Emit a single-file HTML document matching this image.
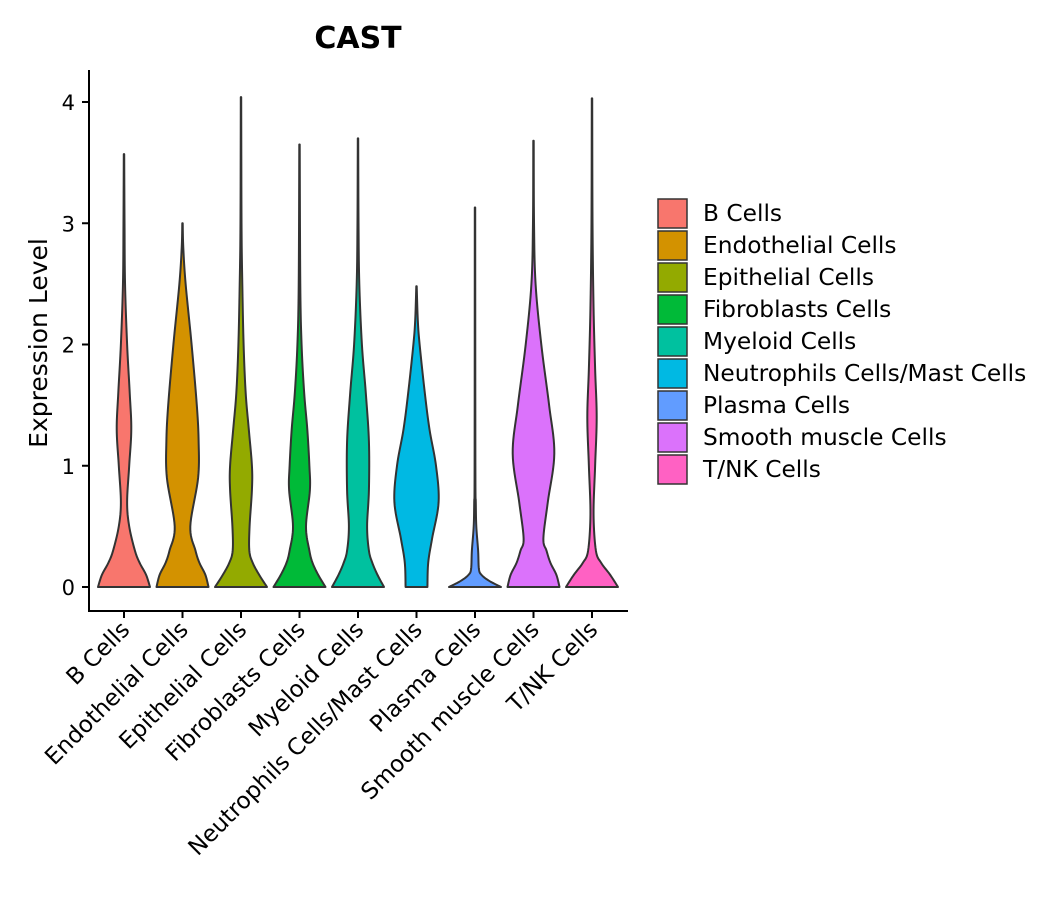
<!DOCTYPE html>
<html><head><meta charset="utf-8"><style>
body{margin:0;background:#fff;}
svg text{font-family:"DejaVu Sans","Liberation Sans",sans-serif;}
</style></head><body>
<svg id="chart" width="1057" height="900"></svg>
<script>
const categories=["B Cells","Endothelial Cells","Epithelial Cells","Fibroblasts Cells","Myeloid Cells","Neutrophils Cells/Mast Cells","Plasma Cells","Smooth muscle Cells","T/NK Cells"];
const colors=["#F8766D","#D39200","#93AA00","#00BA38","#00C19F","#00B9E3","#619CFF","#DB72FB","#FF61C3"];
const yTicks=[0,1,2,3,4];
const maxValues=[3.57,3.0,4.04,3.65,3.7,2.48,3.13,3.68,4.03];
const levels=[
 [0,0.1,0.2,0.3,0.5,0.7,1.0,1.3,1.6,2.0,2.5,3.0],
 [0,0.1,0.2,0.3,0.5,0.9,1.2,1.5,2.0,2.5,2.8],
 [0,0.1,0.2,0.3,0.5,0.8,1.0,1.3,1.6,2.0,2.5,3.0],
 [0,0.1,0.2,0.3,0.5,0.8,1.0,1.3,1.6,2.0,2.5],
 [0,0.1,0.2,0.3,0.5,0.8,1.2,1.6,2.0,2.5,3.0],
 [0,0.2,0.4,0.7,1.0,1.3,1.6,2.0,2.2],
 [0,0.05,0.1,0.15,0.3,0.5,0.7,1.0],
 [0,0.1,0.2,0.3,0.4,0.7,1.1,1.5,2.0,2.5,3.0],
 [0,0.1,0.2,0.3,0.6,1.0,1.4,1.8,2.3,3.0]
];
const widths=[
 [1,0.85,0.6,0.42,0.2,0.12,0.2,0.28,0.22,0.12,0.04,0.02],
 [1,0.88,0.65,0.5,0.3,0.6,0.62,0.55,0.35,0.12,0.03],
 [1,0.7,0.45,0.32,0.33,0.42,0.42,0.3,0.18,0.1,0.05,0.02],
 [1,0.72,0.5,0.38,0.25,0.4,0.38,0.3,0.18,0.08,0.03],
 [1,0.75,0.55,0.42,0.35,0.42,0.42,0.3,0.15,0.05,0.02],
 [0.42,0.45,0.6,0.85,0.75,0.5,0.32,0.12,0.05],
 [1,0.55,0.25,0.15,0.12,0.05,0.03,0.015],
 [1,0.88,0.65,0.5,0.38,0.55,0.8,0.6,0.3,0.08,0.02],
 [1,0.7,0.35,0.15,0.06,0.12,0.18,0.12,0.06,0.02]
];
const NS="http://www.w3.org/2000/svg";
const svg=document.getElementById('chart');
const X0=89,X1=628,Y0=611,YT=70;
const yS=v=>587-v*121.25;
const xS=i=>124+i*58.5;
const maxHalf=26;
function mk(t,a,p){const e=document.createElementNS(NS,t);for(const k in a)e.setAttribute(k,a[k]);(p||svg).appendChild(e);return e;}
let t=mk('text',{x:358,y:48,'text-anchor':'middle','font-size':30,'font-weight':'bold'});t.textContent='CAST';


t=mk('text',{transform:'translate(47,343) rotate(-90)','text-anchor':'middle','font-size':25});t.textContent='Expression Level';


function spline(lv,w){
 const P=lv.map((v,k)=>[v,w[k]]);const out=[];
 for(let k=0;k<P.length-1;k++){
  const p0=P[Math.max(0,k-1)],p1=P[k],p2=P[k+1],p3=P[Math.min(P.length-1,k+2)];
  for(let s=0;s<10;s++){const u=s/10,u2=u*u,u3=u2*u;
   const f=(a,b,c,d)=>0.5*(2*b+(-a+c)*u+(2*a-5*b+4*c-d)*u2+(-a+3*b-3*c+d)*u3);
   out.push([f(p0[0],p1[0],p2[0],p3[0]),Math.max(0.006,f(p0[1],p1[1],p2[1],p3[1]))]);}
 }
 out.push(P[P.length-1]);return out;
}
categories.forEach((c,i)=>{
 const lv=levels[i].slice(),w=widths[i].slice();
 lv.push(maxValues[i]);w.push(0.008);
 const cx=xS(i);
 const pts=spline(lv,w);
 let d='M'+(cx-pts[0][1]*maxHalf)+','+yS(0);
 pts.forEach(p=>d+='L'+(cx+p[1]*maxHalf).toFixed(2)+','+yS(p[0]).toFixed(2));
 for(let k=pts.length-1;k>=0;k--)d+='L'+(cx-pts[k][1]*maxHalf).toFixed(2)+','+yS(pts[k][0]).toFixed(2);
 d+='Z';
 const p=mk('path',{d:d,fill:colors[i],stroke:'#333','stroke-width':2,'stroke-linejoin':'round'});
 
 
 mk('line',{x1:cx,x2:cx,y1:Y0,y2:Y0+7,stroke:'#000','stroke-width':2});
 const l=mk('text',{transform:`translate(${cx+7},${Y0+20}) rotate(-45)`,'text-anchor':'end','font-size':23});
 l.textContent=c;
 
 
 const ly=199+i*32;
 const r=mk('rect',{x:658,y:ly,width:29,height:29,fill:colors[i],stroke:'#333','stroke-width':1.5});
 
 
 const lt=mk('text',{x:703,y:ly+22,'font-size':23.3});lt.textContent=c;
 
 
});
yTicks.forEach(v=>{
 mk('line',{x1:X0-7,x2:X0,y1:yS(v),y2:yS(v),stroke:'#000','stroke-width':2});
 const e=mk('text',{x:X0-14,y:yS(v)+8,'text-anchor':'end','font-size':21});e.textContent=v;
 
 
});
const ax=mk('path',{d:`M${X0},${YT}V${Y0}H${X1}`,fill:'none',stroke:'#000','stroke-width':2});


</script>
</body></html>
